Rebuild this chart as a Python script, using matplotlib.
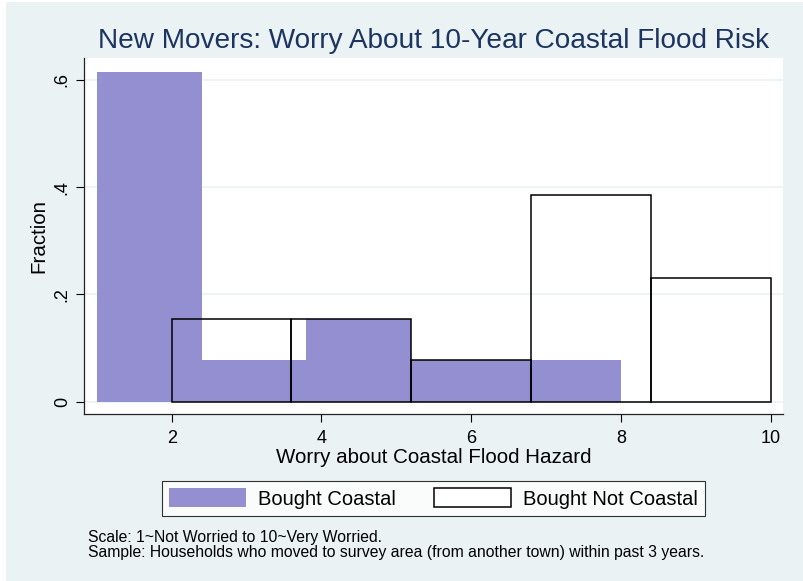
import numpy as np
import matplotlib
matplotlib.use('Agg')
from matplotlib import pyplot as plt
from matplotlib.patches import Patch, Rectangle

plt.rcParams['font.family'] = ['Liberation Sans', 'DejaVu Sans']

# histogram bins and fractions
coastal_edges = [1.0, 2.4, 3.8, 5.2, 6.6, 8.0]
coastal_frac = [0.615, 0.077, 0.154, 0.077, 0.077]
notcoastal_edges = [2.0, 3.6, 5.2, 6.8, 8.4, 10.0]
notcoastal_frac = [0.154, 0.154, 0.077, 0.385, 0.231]

xticks = [2, 4, 6, 8, 10]
yticks = [0, 0.2, 0.4, 0.6]
ytick_labels = ['0', '.2', '.4', '.6']

bg = '#EAF2F3'
purple = '#938FD1'
navy = '#1c3461'

W, H = 804, 581
fig = plt.figure(figsize=(W / 100, H / 100), dpi=100, facecolor='white')

# Stata-style light background, small white margin top/left
fig.patches.append(Rectangle((6 / W, 0), 1 - 6 / W, 1 - 2 / H, transform=fig.transFigure,
                             facecolor=bg, edgecolor='none', zorder=-10))

ax = fig.add_axes([84 / W, 1 - 414 / H, (783 - 84) / W, (414 - 58) / H])
ax.set_facecolor('white')

c_left = np.array(coastal_edges[:-1])
c_w = np.diff(coastal_edges)
ax.bar(c_left, coastal_frac, width=c_w, align='edge', color=purple, edgecolor='none', zorder=2)

n_left = np.array(notcoastal_edges[:-1])
n_w = np.diff(notcoastal_edges)
ax.bar(n_left, notcoastal_frac, width=n_w, align='edge', facecolor='none',
       edgecolor='black', linewidth=1.1, zorder=3)

ax.set_xlim(0.829, 10.164)
ax.set_ylim(-0.0229, 0.641)
ax.set_xticks(xticks)
ax.set_yticks(yticks)
ax.set_yticklabels(ytick_labels, rotation=90, va='center')
ax.grid(axis='y', color=bg, linewidth=1.2, zorder=0)
ax.set_axisbelow(True)

for s in ['top', 'right']:
    ax.spines[s].set_visible(False)
for s in ['left', 'bottom']:
    ax.spines[s].set_linewidth(0.9)
    ax.spines[s].set_color('#222222')

ax.tick_params(axis='both', direction='out', length=5.5, width=0.8, labelsize=13,
               colors='black')
ax.tick_params(axis='x', pad=6)
ax.tick_params(axis='y', pad=4)

ax.set_xlabel('Worry about Coastal Flood Hazard', fontsize=14.8, labelpad=1)
ax.set_ylabel('Fraction', fontsize=14.8, labelpad=4)

fig.text(434 / W, 1 - 48 / H, 'New Movers: Worry About 10-Year Coastal Flood Risk',
         ha='center', va='baseline', fontsize=20.2, color=navy)

handles = [Patch(facecolor=purple, edgecolor='none'),
           Patch(facecolor='white', edgecolor='black', linewidth=1.1)]
leg = fig.legend(handles, ['Bought Coastal', 'Bought Not Coastal'], ncol=2,
                 loc='center', bbox_to_anchor=(433.5 / W, 1 - 498.5 / H),
                 fontsize=14.5, frameon=True, fancybox=False, edgecolor='black',
                 handlelength=3.8, handleheight=1.05, handletextpad=0.6,
                 columnspacing=1.9, borderpad=0.35, borderaxespad=0)
leg.get_frame().set_linewidth(0.8)
leg.get_frame().set_facecolor('white')

fig.text(88 / W, 1 - 542 / H, 'Scale: 1~Not Worried to 10~Very Worried.',
         ha='left', va='baseline', fontsize=11.35)
fig.text(88 / W, 1 - 557 / H,
         'Sample: Households who moved to survey area (from another town) within past 3 years.',
         ha='left', va='baseline', fontsize=11.35)

fig.savefig('out.png', dpi=100, facecolor=fig.get_facecolor())
